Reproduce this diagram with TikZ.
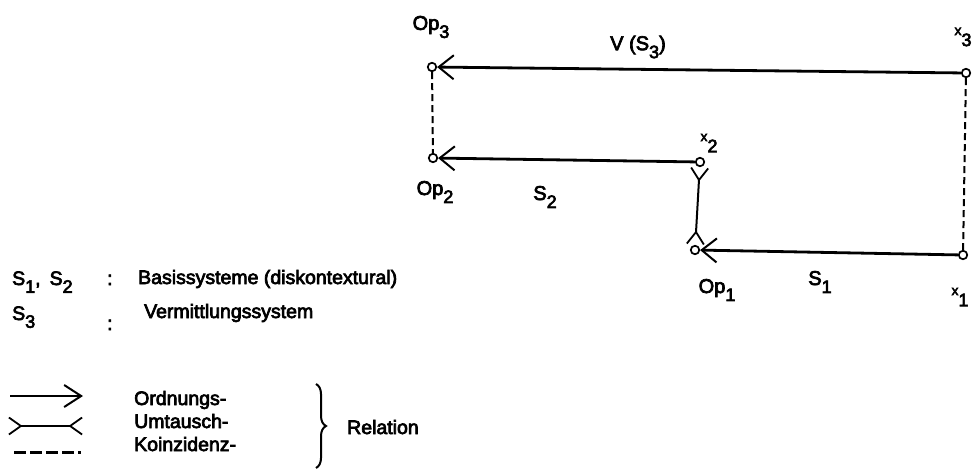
\documentclass[tikz,border=0pt]{standalone}
\usepackage{fontspec}
\setmainfont{Liberation Sans}[FakeBold=3.5]
\usetikzlibrary{arrows.meta,decorations.pathreplacing}
\newcommand{\lsub}[1]{\raisebox{-0.4em}{\fontsize{18}{18}\selectfont #1}}
\newcommand{\smx}{\raisebox{0.15em}{\fontsize{14}{14}\selectfont x}}
\begin{document}
\begin{tikzpicture}[x=1pt,y=-1pt,
  pt/.style={circle,draw,line width=1.7pt,inner sep=0pt,minimum size=8.5pt},
  ord/.style={line width=2.8pt,-{Straight Barb[length=15pt,width=24pt,line width=2pt]}},
  koin/.style={line width=2pt,dash pattern=on 7pt off 4pt},
  umt/.style={line width=2pt,{Straight Barb[reversed,length=12pt,width=17pt,line width=1.8pt]}-{Straight Barb[reversed,length=12pt,width=17pt,line width=1.8pt]}},
  lbl/.style={inner sep=0pt,font=\fontsize{20}{22}\selectfont},
  txt/.style={inner sep=0pt,anchor=base west,font=\fontsize{19.5}{22}\selectfont}]
\useasboundingbox (0,0) rectangle (979,476);
% points
\node[pt] (op3) at (432,67) {};
\node[pt] (op2) at (433,158) {};
\node[pt] (x3) at (966,73) {};
\node[pt] (x2) at (700,162) {};
\node[pt] (op1) at (695,250) {};
\node[pt] (x1) at (963,255) {};
% connectors
\draw[ord] (x3) -- (op3);
\draw[ord] (x2) -- (op2);
\draw[ord] (x1) -- (op1);
\draw[koin] (op3) -- (op2);
\draw[koin] (x3) -- (x1);
\draw[umt] (x2) -- (op1);
% labels
\node[lbl] (lop3) at (431,27) {Op\lsub{3}};
\node[lbl] (lop2) at (435,192) {Op\lsub{2}};
\node[lbl] (lop1) at (717,290) {Op\lsub{1}};
\node[lbl] (lx3) at (963,37) {\smx\lsub{3}};
\node[lbl] (lx2) at (709,143) {\smx\lsub{2}};
\node[lbl] (lx1) at (960,297) {\smx\lsub{1}};
\node[lbl] (lv) at (638,47) {V (S\lsub{3})};
\node[lbl] (ls2) at (545,197) {S\lsub{2}};
\node[lbl] (ls1) at (820,282) {S\lsub{1}};
% legend 1
\node[txt] (k12) at (12,285) {S\lsub{1},\hspace{9pt}S\lsub{2}};
\node[txt] (c1) at (107,285) {:};
\node[txt] (t1) at (138,284) {Basissysteme (diskontextural)};
\node[txt] (k3) at (12,320) {S\lsub{3}};
\node[txt] (c2) at (107,330) {:};
\node[txt] (t2) at (144,318) {Vermittlungssystem};
% legend 2
\coordinate (a1) at (10,396);
\coordinate (a2) at (83,396);
\draw[ord,-{Straight Barb[length=17pt,width=22pt,line width=2pt]}] (a1) -- (a2);
\coordinate (u1) at (8,426);
\coordinate (u2) at (83,426);
\draw[umt,line width=2.6pt] (u1) -- (u2);
\coordinate (d1) at (14,452);
\coordinate (d2) at (81,452);
\draw[koin,line width=3pt,dash pattern=on 12pt off 4pt] (d1) -- (d2);
\node[txt] (o) at (134,405) {Ordnungs-};
\node[txt] (u) at (134,428) {Umtausch-};
\node[txt] (k) at (134,451) {Koinzidenz-};
\coordinate (b1) at (316,384);
\coordinate (b2) at (316,468);
\draw[line width=2pt,decorate,decoration={brace,amplitude=10pt}] (b1) -- (b2);
\node[txt] (rel) at (347,434) {Relation};
\end{tikzpicture}
\end{document}
